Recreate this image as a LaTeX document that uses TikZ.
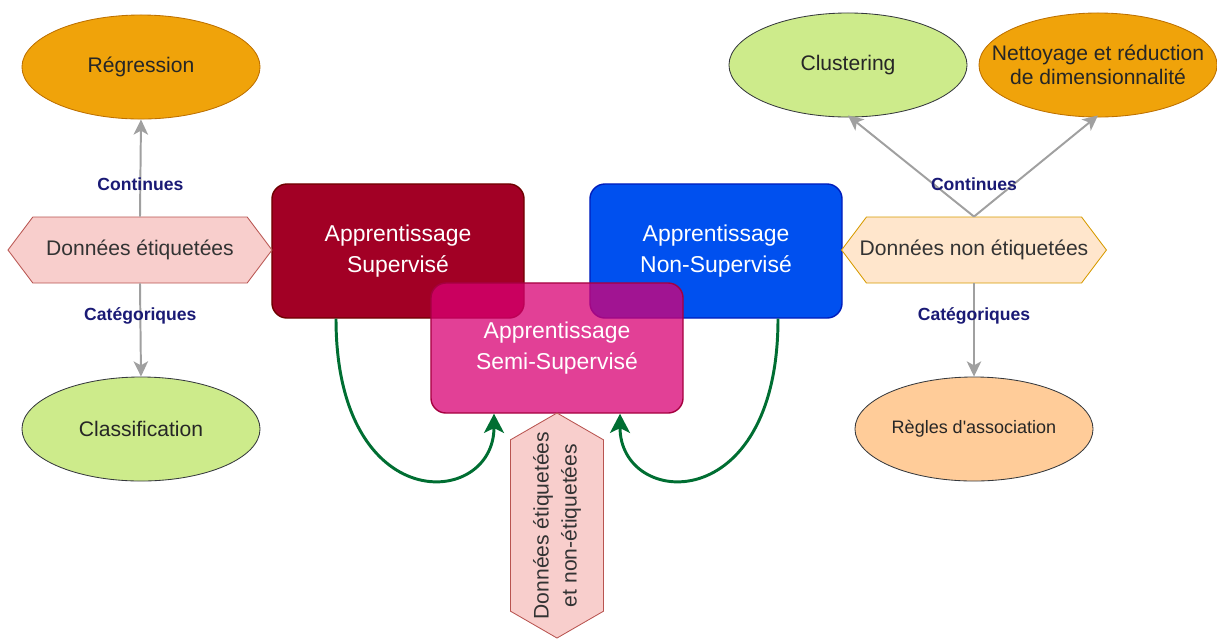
\documentclass[tikz,border=0pt]{standalone}
\usepackage{fontspec}
\setmainfont{Liberation Sans}[Ligatures=TeXOff]
\usetikzlibrary{shapes,arrows.meta,positioning,calc}
\definecolor{orangefonce}{RGB}{240,163,10}
\definecolor{orangebord}{RGB}{189,112,0}
\definecolor{vertclair}{RGB}{205,235,139}
\definecolor{grisbord}{RGB}{54,57,61}
\definecolor{peche}{RGB}{255,204,153}
\definecolor{roseclair}{RGB}{248,206,204}
\definecolor{rosebord}{RGB}{184,84,80}
\definecolor{orangeclair}{RGB}{255,230,204}
\definecolor{orangeclairbord}{RGB}{215,155,0}
\definecolor{bordeaux}{RGB}{162,0,37}
\definecolor{bordeauxbord}{RGB}{111,0,0}
\definecolor{bleuvif}{RGB}{0,80,239}
\definecolor{bleubord}{RGB}{0,29,188}
\definecolor{magenta}{RGB}{216,0,115}
\definecolor{magentabord}{RGB}{165,0,64}
\definecolor{vertfleche}{RGB}{0,110,50}
\definecolor{grisfleche}{RGB}{160,160,160}
\definecolor{marine}{RGB}{26,26,117}

\begin{document}
\begin{tikzpicture}[x=0.025cm, y=-0.025cm,
    ovale/.style={ellipse, draw=grisbord, line width=0.6pt, minimum width=5.95cm, minimum height=2.6cm, inner sep=0pt, align=center, text=black!85, font=\fontsize{15}{17.5}\selectfont},
    donnees/.style={signal, signal from=nowhere, signal to=west and east, signal pointer angle=106, draw=rosebord, fill=roseclair, line width=0.6pt, minimum width=6.6cm, minimum height=1.65cm, text=black!80, align=center, font=\fontsize{15}{17.5}\selectfont},
    apprent/.style={rectangle, rounded corners=0.375cm, minimum width=6.3cm, minimum height=3.35cm, line width=1pt, text=white, align=center, font=\fontsize{16.3}{22}\selectfont},
    fleche/.style={-{Stealth[length=0.38cm, width=0.36cm, inset=0.1cm]}, line width=1.4pt, draw=grisfleche},
    lien/.style={-{Stealth[length=0.48cm, width=0.5cm, inset=0.12cm]}, line width=2.1pt, draw=vertfleche},
    etiq/.style={text=marine, font=\bfseries\fontsize{12.5}{14}\selectfont}]

    \useasboundingbox (0,0) rectangle (1217,641);

    % apprentissages
    \node [apprent, fill=bordeaux, draw=bordeauxbord] (sup) at (398,251) {Apprentissage\\Supervisé};
    \node [apprent, fill=bleuvif, draw=bleubord] (nonsup) at (716,251) {Apprentissage\\Non-Supervisé};
    \node [apprent, fill=magenta, fill opacity=0.75, text opacity=1, draw=magentabord, minimum height=3.25cm] (semi) at (557,348) {Apprentissage\\Semi-Supervisé};

    % donnees
    \node [donnees] (etiq) at (140,250) {Données étiquetées};
    \node [donnees, draw=orangeclairbord, fill=orangeclair, inner xsep=-0.17cm] (nonetiq) at (974,250) {Données non étiquetées};
    \node [donnees, rotate=90, minimum width=5.625cm, minimum height=2.325cm, signal pointer angle=120, inner xsep=-0.27cm, font=\fontsize{15}{20}\selectfont] (mixte) at (557,525.5) {Données étiquetées\\et non-étiquetées};

    % taches
    \node [ovale, fill=orangefonce, draw=orangebord] (regr) at (141,67) {Régression};
    \node [ovale, fill=vertclair] (classif) at (141,429) {Classification};
    \node [ovale, fill=vertclair] (clust) at (848,65) {Clustering};
    \node [ovale, fill=orangefonce, draw=orangebord, inner xsep=-0.55cm] (reduc) at (1098,65) {Nettoyage et réduction\\de dimensionnalité};
    \node [ovale, fill=peche, font=\fontsize{12.8}{15}\selectfont] (assoc) at (974,429) {Règles d'association};

    \draw[fleche] (etiq.north) -- node[etiq, pos=0.33] {Continues} (regr.south);
    \draw[fleche] (etiq.south) -- node[etiq, pos=0.35] {Catégoriques} (classif.north);
    \draw[fleche] (nonetiq.north) -- ($(clust.south)+(0,-2)$);
    \draw[fleche] (nonetiq.north) -- ($(reduc.south)+(0,-2)$);
    \node [etiq] (cont) at (974,184) {Continues};
    \draw[fleche] (nonetiq.south) -- node[etiq, pos=0.35] {Catégoriques} (assoc.north);

    \draw[lien] ($(sup.south)+(-62,0)$) .. controls +(0,200) and +(0,95) .. ($(semi.south)+(-63,0)$);
    \draw[lien] ($(nonsup.south)+(62,0)$) .. controls +(0,200) and +(0,95) .. ($(semi.south)+(63,0)$);
\end{tikzpicture}
\end{document}
